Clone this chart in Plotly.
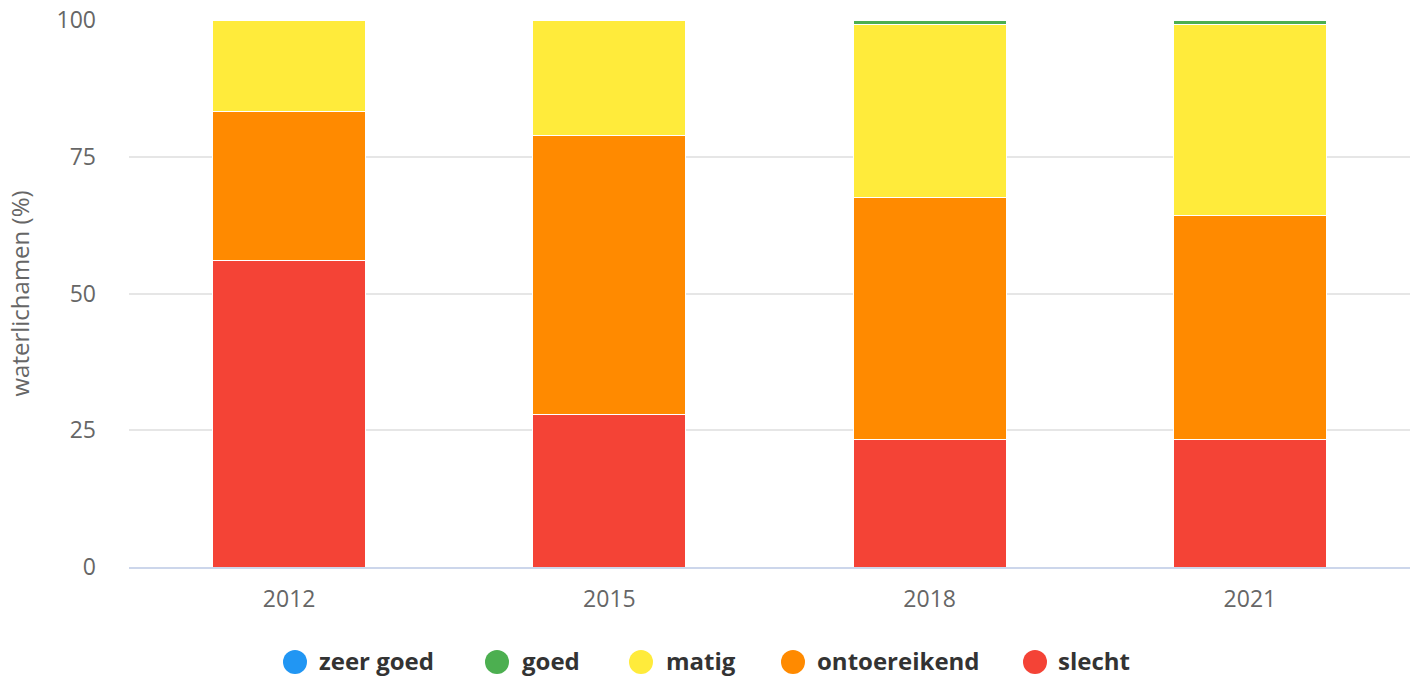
import plotly.graph_objects as go

years = ["2012", "2015", "2018", "2021"]
series_names = ["zeer goed", "goed", "matig", "ontoereikend", "slecht"]
zeer_goed = [0.0, 0.0, 0.0, 0.0]
goed = [0.0, 0.0, 0.9, 0.9]
matig = [16.8, 21.2, 31.5, 34.9]
ontoereikend = [27.2, 51.0, 44.3, 40.8]
slecht = [56.0, 27.8, 23.3, 23.4]
y_ticks = [0, 25, 50, 75, 100]

colors = {
    "zeer goed": "#2196F3",
    "goed": "#4CAF50",
    "matig": "#FFEB3B",
    "ontoereikend": "#FF8A00",
    "slecht": "#F44336",
}
values = {
    "zeer goed": zeer_goed,
    "goed": goed,
    "matig": matig,
    "ontoereikend": ontoereikend,
    "slecht": slecht,
}

W, H = 1421, 677
ML, MR, MT, MB = 129, 11, 20, 110
PW, PH = W - ML - MR, H - MT - MB

fig = go.Figure()
# stack bottom to top: slecht, ontoereikend, matig, goed, zeer goed
for name in ["slecht", "ontoereikend", "matig", "goed", "zeer goed"]:
    fig.add_trace(go.Bar(
        x=years, y=values[name], name=name,
        marker=dict(color=colors[name], line=dict(color="white", width=1)),
        width=0.478, showlegend=False,
    ))

# custom legend (circles + bold labels)
legend_items = [
    ("zeer goed", 295, 320),
    ("goed", 497, 523),
    ("matig", 641, 667),
    ("ontoereikend", 793, 818),
    ("slecht", 1035, 1059),
]
circle_y_px = 662
text_y_px = 660
cy = (MT + PH - circle_y_px) / PH
ty = (MT + PH - text_y_px) / PH
shapes = []
annotations = []
for name, cx, tx in legend_items:
    xp = (cx - ML) / PW
    shapes.append(dict(
        type="circle", xref="paper", yref="paper",
        xsizemode="pixel", ysizemode="pixel",
        xanchor=xp, yanchor=cy,
        x0=-12, x1=12, y0=-12, y1=12,
        fillcolor=colors[name], line=dict(width=0),
    ))
    annotations.append(dict(
        x=(tx - ML) / PW, y=ty, xref="paper", yref="paper",
        text="<b>" + name + "</b>", showarrow=False,
        xanchor="left", yanchor="middle", xshift=-2, borderpad=0,
        font=dict(family="Open Sans", size=24, color="#333333"),
    ))

fig.update_layout(
    barmode="stack",
    width=W, height=H,
    margin=dict(l=ML, r=MR, t=MT, b=MB, autoexpand=False),
    plot_bgcolor="white", paper_bgcolor="white",
    font=dict(family="Open Sans", color="#666666", size=23),
    shapes=shapes, annotations=annotations,
    showlegend=False,
    xaxis=dict(
        type="category", showgrid=False, automargin=False,
        showline=True, linecolor="#ccd6eb", linewidth=1.5,
        tickfont=dict(size=23, color="#666666"),
        ticks="", ticklabelstandoff=11,
    ),
    yaxis=dict(
        range=[0, 100], tickvals=y_ticks, automargin=False,
        showgrid=True, gridcolor="#e6e6e6", gridwidth=1.5,
        zeroline=False, showline=False,
        tickfont=dict(size=23, color="#666666"),
        ticks="", ticklabelstandoff=32,
        title=dict(text="waterlichamen (%)", standoff=20,
                   font=dict(size=24, color="#666666")),
    ),
)

post = (
    "document.documentElement.style.margin='0';"
    "document.body.style.margin='0';document.body.style.overflow='hidden';"
    "var d=document.getElementById('{plot_id}');"
    "d.style.position='absolute';d.style.left='0px';d.style.top='0px';"
)
fig.write_html("out.html", post_script=post, config={"displayModeBar": False})
